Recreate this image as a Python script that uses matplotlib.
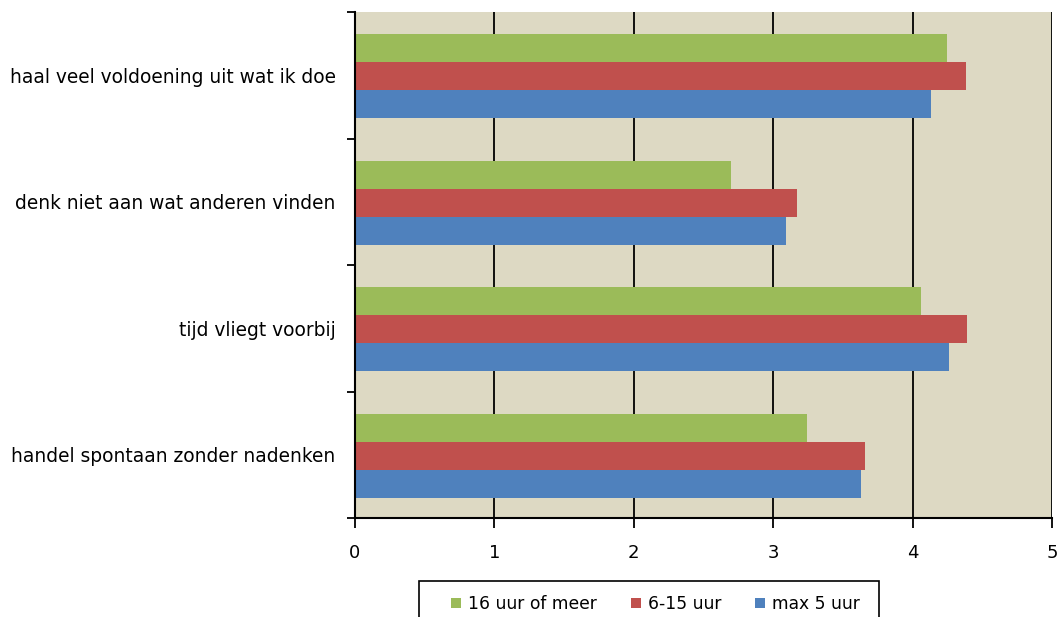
import numpy as np
import matplotlib
matplotlib.use("Agg")
import matplotlib.pyplot as plt
from matplotlib.patches import Rectangle

# data (top-to-bottom order as shown)
categories = ["haal veel voldoening uit wat ik doe",
              "denk niet aan wat anderen vinden",
              "tijd vliegt voorbij",
              "handel spontaan zonder nadenken"]
series_names = ["16 uur of meer", "6-15 uur", "max 5 uur"]
uur16_meer = [4.25, 2.70, 4.06, 3.24]
uur6_15 = [4.38, 3.17, 4.39, 3.66]
max5_uur = [4.13, 3.09, 4.26, 3.63]
colors = ["#9BBB59", "#C0504D", "#4F81BD"]

plt.rcParams["font.family"] = ["DejaVu Sans"]

W, H = 1064, 617
fig = plt.figure(figsize=(W / 100, H / 100), dpi=100)
ax = fig.add_axes([355 / W, 1 - 518 / H, (1052 - 355) / W, (518 - 12) / H])
ax.set_facecolor("#DDD9C3")

n = len(categories)
ypos = np.arange(n)[::-1]  # first category at top
h = 0.222
values = [uur16_meer, uur6_15, max5_uur]
offsets = [h, 0, -h]
for vals, off, col, name in zip(values, offsets, colors, series_names):
    ax.barh(ypos + off - 0.008, vals, height=h, color=col, label=name,
            edgecolor="none")

ax.set_xlim(0, 5)
ax.set_ylim(-0.5, n - 0.5)
ax.set_xticks(range(6))
ax.set_yticks(ypos)
ax.set_yticklabels(categories, fontsize=13.4)
ax.set_yticks(np.arange(-0.5, n, 1), minor=True)
ax.tick_params(axis="y", which="major", length=0, pad=14)
ax.tick_params(axis="y", which="minor", length=6, width=1.3, direction="out")
ax.tick_params(axis="x", length=7, width=1.3, direction="out", labelsize=13, pad=12)
ax.xaxis.grid(True, color="black", linewidth=1.3)
ax.set_axisbelow(True)
for s in ["top", "right"]:
    ax.spines[s].set_visible(False)
for s in ["left", "bottom"]:
    ax.spines[s].set_linewidth(1.5)

# legend box (cut off at the bottom like the original)
fig.patches.append(Rectangle((419 / W, -0.05), (879 - 419) / W, 0.05 + 1 - 581 / H,
                             transform=fig.transFigure, fill=False,
                             edgecolor="black", linewidth=1.2))
leg = fig.legend(loc="center", bbox_to_anchor=(655.5 / W, 1 - 604 / H),
                 ncol=3, fontsize=12.3, frameon=False,
                 handlelength=0.58, handleheight=0.58, handletextpad=0.4,
                 columnspacing=2.0, borderpad=0)

fig.savefig("out.png", dpi=100)
